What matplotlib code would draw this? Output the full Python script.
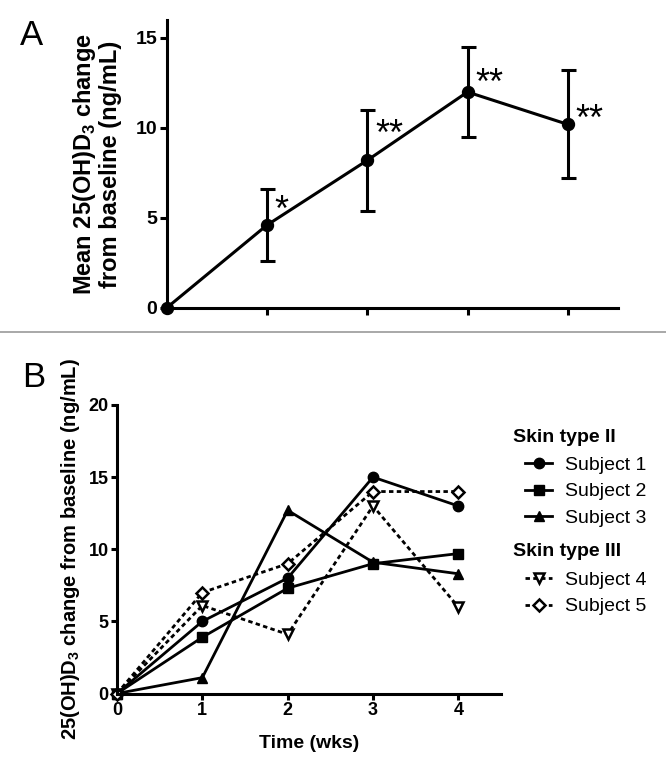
import matplotlib
matplotlib.use("Agg")
import matplotlib.pyplot as plt
from matplotlib.lines import Line2D
from matplotlib.transforms import offset_copy

plt.rcParams['font.family'] = ['Liberation Sans', 'DejaVu Sans']
plt.rcParams['mathtext.fontset'] = 'custom'
plt.rcParams['mathtext.rm'] = 'Liberation Sans:bold'
plt.rcParams['mathtext.bf'] = 'Liberation Sans:bold'

# Panel A data
weeks_a = [0, 1, 2, 3, 4]
mean_change = [0.0, 4.6, 8.2, 12.0, 10.2]
err_change = [0.0, 2.0, 2.8, 2.5, 3.0]
stars = ['', '*', '**', '**', '**']
star_dy = [0.0, 1.37, 2.0, 1.05, 0.84]   # label placement above each point

# Panel B data
weeks_b = [0, 1, 2, 3, 4]
subject1 = [0, 5.0, 8.0, 15.0, 13.0]
subject2 = [0, 3.9, 7.3, 9.0, 9.7]
subject3 = [0, 1.1, 12.7, 9.1, 8.3]
subject4 = [0, 6.1, 4.1, 13.0, 6.0]
subject5 = [0, 7.0, 9.0, 14.0, 14.0]

W, H = 666, 766
fig = plt.figure(figsize=(W/100, H/100), dpi=100)

def style_axes(ax, tlen):
    for s in ['top', 'right']:
        ax.spines[s].set_visible(False)
    for s in ['left', 'bottom']:
        ax.spines[s].set_linewidth(2.2)
    ax.tick_params(width=2.2, length=tlen, direction='out', pad=1.5)

# ---------- Panel A ----------
axA = fig.add_axes([166.5/W, 1-308/H, 451.5/W, 288/H])
style_axes(axA, 5.2)
axA.errorbar(weeks_a[1:], mean_change[1:], yerr=err_change[1:], fmt='none',
             ecolor='black', elinewidth=2.2, capsize=5.4, capthick=2.2, zorder=2)
axA.plot(weeks_a, mean_change, color='black', lw=2.2, marker='o', ms=8.6,
         clip_on=False, zorder=3)
star_tr = offset_copy(axA.transData, fig=fig, y=-0.57*26, units='points')
for x, y, dy, s in zip(weeks_a, mean_change, star_dy, stars):
    if s:
        axA.text(x + 0.08, y + dy, s, fontsize=26, ha='left', va='baseline',
                 transform=star_tr)
axA.set_xlim(0, 4.5)
axA.set_ylim(0, 16)
axA.set_xticks(weeks_a[1:])
axA.set_xticklabels([])
axA.set_yticks([0, 5, 10, 15])
axA.tick_params(axis='y', labelsize=14)
for lab in axA.get_yticklabels():
    lab.set_fontweight('bold')
axA.set_ylabel('Mean 25(OH)D$_3$ change\nfrom baseline (ng/mL)', fontsize=17,
               fontweight='bold', linespacing=1.05)
axA.yaxis.set_label_coords((122-166.5)/451.5, 0.5)
fig.text(20/W, 1-45/H, 'A', fontsize=25, ha='left', va='baseline')

# divider
fig.add_artist(Line2D([0, 1], [1-332/H, 1-332/H], transform=fig.transFigure,
                      color='#999999', lw=1.2))

# ---------- Panel B ----------
axB = fig.add_axes([117/W, 1-693.5/H, 384/W, 288.5/H])
style_axes(axB, 4.5)
h1, = axB.plot(weeks_b, subject1, color='black', lw=2.0, marker='o', ms=7.5,
               clip_on=False, label='Subject 1')
h2, = axB.plot(weeks_b, subject2, color='black', lw=2.0, marker='s', ms=7.5,
               clip_on=False, label='Subject 2')
h3, = axB.plot(weeks_b, subject3, color='black', lw=2.0, marker='^', ms=7.5,
               clip_on=False, label='Subject 3')
h4, = axB.plot(weeks_b, subject4, color='black', lw=2.0, ls=(0, (1.6, 1.2)),
               marker='v', ms=7.5, mfc='white', mew=1.8, clip_on=False,
               label='Subject 4')
h5, = axB.plot(weeks_b, subject5, color='black', lw=2.0, ls=(0, (1.6, 1.2)),
               marker='D', ms=6.5, mfc='white', mew=1.8, clip_on=False,
               label='Subject 5')
axB.set_xlim(0, 4.5)
axB.set_ylim(0, 20)
axB.set_xticks(weeks_b)
axB.set_yticks([0, 5, 10, 15, 20])
axB.tick_params(labelsize=13)
for lab in axB.get_xticklabels() + axB.get_yticklabels():
    lab.set_fontweight('bold')
axB.set_xlabel('Time (wks)', fontsize=14, fontweight='bold')
axB.xaxis.set_label_coords(0.5, -(735-693.5)/288.5)
axB.set_ylabel('25(OH)D$_3$ change from baseline (ng/mL)', fontsize=14.5,
               fontweight='bold')
axB.yaxis.set_label_coords((82-117)/384, 0.5)
fig.text(22/W, 1-387/H, 'B', fontsize=25, ha='left', va='baseline')

leg_kw = dict(frameon=False, fontsize=14, handlelength=1.4, handletextpad=0.65,
              labelspacing=0.47, borderpad=0, borderaxespad=0,
              loc='upper left')
fig.text(513/W, 1-437/H, 'Skin type II', fontsize=14, fontweight='bold',
         ha='left', va='center')
fig.legend(handles=[h1, h2, h3], bbox_to_anchor=(525/W, 1-456/H), **leg_kw)
fig.text(513/W, 1-552/H, 'Skin type III', fontsize=14, fontweight='bold',
         ha='left', va='center')
fig.legend(handles=[h4, h5], bbox_to_anchor=(525/W, 1-571/H), **leg_kw)

fig.savefig('out.png', dpi=100)
